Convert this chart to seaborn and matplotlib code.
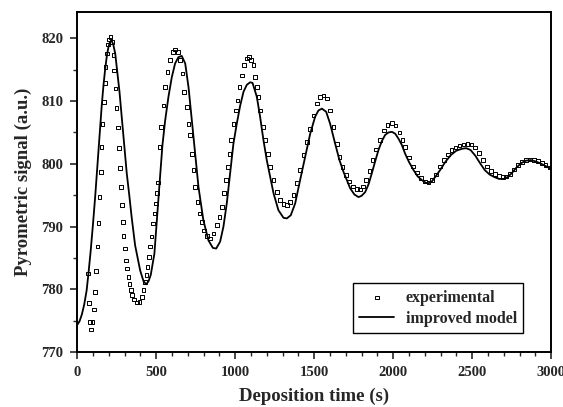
import matplotlib
matplotlib.use("Agg")
import matplotlib.pyplot as plt
import seaborn as sns
import pandas as pd
from matplotlib.ticker import MultipleLocator

# ---- data ----
exp_time = [68, 76, 82, 89, 97, 106, 114, 120, 128, 135, 141, 150, 155, 160, 168, 175, 180, 188,
            195, 203, 212, 222, 230, 235, 242, 250, 257, 263, 270, 277, 283, 289, 294, 304, 310,
            316, 325, 331, 340, 348, 361, 378, 394, 409, 420, 430, 439, 445, 454, 462, 470, 479,
            489, 498, 504, 510, 521, 532, 546, 557, 572, 589, 605, 620, 637, 652, 667, 677, 694,
            705, 715, 726, 736, 747, 762, 774, 789, 804, 821, 842, 863, 884, 901, 916, 930, 943,
            954, 964, 975, 989, 1004, 1015, 1027, 1042, 1057, 1074, 1088, 1102, 1116, 1127, 1137,
            1148, 1158, 1175, 1190, 1207, 1222, 1243, 1264, 1285, 1306, 1327, 1348, 1369, 1390,
            1411, 1432, 1454, 1475, 1496, 1517, 1538, 1559, 1580, 1601, 1622, 1644, 1660, 1680,
            1700, 1720, 1745, 1770, 1791, 1810, 1830, 1850, 1870, 1890, 1918, 1940, 1965, 1992,
            2015, 2040, 2060, 2076, 2100, 2125, 2150, 2175, 2200, 2224, 2245, 2270, 2297, 2320,
            2345, 2370, 2395, 2420, 2445, 2470, 2495, 2520, 2545, 2570, 2595, 2620, 2645, 2670,
            2695, 2715, 2740, 2765, 2790, 2815, 2840, 2865, 2890, 2915, 2940, 2965, 2990]
exp_signal = [782.5, 777.8, 774.8, 773.6, 774.8, 776.8, 779.6, 782.9, 786.8, 790.6, 794.7, 798.7,
              802.7, 806.4, 809.9, 812.9, 815.4, 817.6, 819.0, 819.8, 820.2, 819.4, 817.3, 814.9,
              812.0, 808.9, 805.8, 802.5, 799.3, 796.3, 793.4, 790.7, 788.5, 786.5, 784.6, 783.3,
              782.0, 780.9, 779.9, 779.1, 778.4, 777.9, 778.0, 778.8, 779.9, 781.2, 782.3, 783.6,
              785.2, 786.8, 788.4, 790.5, 792.1, 793.7, 795.4, 797.0, 802.7, 805.9, 809.3, 812.2,
              814.6, 816.5, 817.8, 818.2, 817.8, 816.5, 814.4, 811.5, 809.1, 806.4, 804.6, 801.6,
              799.0, 796.3, 793.9, 792.1, 790.7, 789.4, 788.5, 788.1, 788.9, 790.2, 791.5, 793.1,
              795.3, 797.4, 799.5, 801.6, 803.8, 806.4, 808.5, 810.1, 812.2, 814.1, 815.7, 816.8,
              817.0, 816.6, 815.8, 813.8, 812.2, 810.7, 808.5, 805.9, 803.8, 801.6, 799.5, 797.4,
              795.5, 794.2, 793.6, 793.4, 793.9, 795.0, 796.9, 799.0, 801.4, 803.5, 805.6, 807.7,
              809.6, 810.7, 810.9, 810.4, 808.5, 805.9, 803.2, 801.1, 799.5, 798.2, 797.2, 796.4,
              796.0, 795.9, 796.4, 797.4, 798.9, 800.6, 802.3, 803.8, 805.3, 806.2, 806.5, 806.1,
              805.0, 803.8, 802.7, 801.0, 799.6, 798.6, 797.7, 797.2, 797.0, 797.4, 798.3, 799.6,
              800.6, 801.5, 802.2, 802.6, 802.9, 803.1, 803.2, 803.1, 802.6, 801.7, 800.6, 799.6,
              798.9, 798.4, 798.1, 797.9, 798.0, 798.4, 799.1, 799.8, 800.3, 800.6, 800.7, 800.6,
              800.4, 800.1, 799.8, 799.4]

model_time = [0, 15, 30, 45, 60, 72, 86, 100, 114, 125, 135, 146, 156, 167, 177, 188, 198, 208,
              218, 228, 241, 268, 293, 314, 330, 345, 367, 399, 420, 437, 452, 466, 489, 510, 525,
              540, 557, 578, 599, 620, 641, 662, 684, 705, 726, 747, 768, 799, 831, 859, 880, 905,
              926, 947, 968, 989, 1011, 1032, 1053, 1074, 1095, 1110, 1137, 1158, 1179, 1200, 1222,
              1243, 1274, 1306, 1327, 1352, 1380, 1411, 1443, 1475, 1506, 1527, 1549, 1576, 1601,
              1633, 1660, 1686, 1728, 1755, 1781, 1800, 1823, 1845, 1865, 1885, 1907, 1928, 1949,
              1970, 1992, 2013, 2034, 2055, 2076, 2100, 2129, 2155, 2182, 2205, 2224, 2245, 2266,
              2297, 2330, 2365, 2400, 2435, 2462, 2490, 2520, 2550, 2580, 2610, 2640, 2670, 2700,
              2725, 2750, 2780, 2810, 2840, 2870, 2900, 2930, 2960, 3000]
model_signal = [774.3, 774.9, 776.0, 777.6, 779.8, 782.6, 786.2, 790.3, 794.7, 798.6, 802.3,
                806.2, 809.4, 812.6, 815.0, 817.2, 818.6, 819.4, 819.6, 819.1, 817.6, 811.5, 804.5,
                798.5, 795.0, 791.5, 787.0, 783.0, 781.3, 780.8, 781.3, 782.3, 785.7, 793.0, 798.0,
                803.0, 806.9, 810.7, 813.8, 816.0, 817.0, 817.2, 816.0, 812.2, 806.9, 801.6, 796.3,
                791.0, 787.8, 786.6, 786.5, 787.6, 790.0, 793.7, 798.5, 803.2, 806.5, 809.3, 811.5,
                812.6, 813.0, 812.9, 810.7, 807.5, 803.8, 800.6, 797.9, 795.3, 792.6, 791.4, 791.3,
                791.8, 793.7, 797.4, 801.1, 804.8, 807.5, 808.5, 808.8, 808.3, 806.4, 803.2, 800.6,
                798.7, 796.1, 795.1, 794.7, 794.9, 795.5, 796.8, 798.5, 800.3, 802.2, 803.6, 804.6,
                805.0, 805.1, 804.8, 804.0, 803.0, 801.6, 800.3, 799.0, 798.0, 797.4, 797.0, 796.9,
                797.2, 797.9, 799.0, 800.3, 801.4, 802.1, 802.4, 802.5, 802.2, 801.3, 800.1, 799.0,
                798.3, 797.9, 797.6, 797.6, 797.9, 798.5, 799.4, 800.1, 800.5, 800.6, 800.4, 800.1,
                799.7, 799.2]

x_ticks = [0, 500, 1000, 1500, 2000, 2500, 3000]
y_ticks = [770, 780, 790, 800, 810, 820]

exp_df = pd.DataFrame({"t": exp_time, "s": exp_signal})
mod_df = pd.DataFrame({"t": model_time, "s": model_signal})

sns.set_style("white")
plt.rcParams["font.family"] = ["Liberation Serif", "DejaVu Serif"]
plt.rcParams["font.weight"] = "bold"

fig = plt.figure(figsize=(5.63, 4.07), dpi=100)
ax = fig.add_axes([0.137, 0.135, 0.842, 0.8355])

sns.scatterplot(data=exp_df, x="t", y="s", ax=ax, marker="s", s=7,
                facecolors="none", edgecolor="black", linewidth=0.7,
                label="experimental", zorder=3)
sns.lineplot(data=mod_df, x="t", y="s", ax=ax, color="black", linewidth=1.3,
             label="improved model", zorder=2)

ax.set_xlim(0, 3000)
ax.set_ylim(770, 824.2)
ax.set_xticks(x_ticks)
ax.set_yticks(y_ticks)
ax.xaxis.set_minor_locator(MultipleLocator(100))
ax.yaxis.set_minor_locator(MultipleLocator(5))
ax.tick_params(axis="both", which="major", direction="out", length=5, width=1.2,
               labelsize=10.5, bottom=True, left=True, top=False, right=False, pad=5)
ax.tick_params(axis="both", which="minor", direction="out", length=3, width=1.0,
               bottom=True, left=True, top=False, right=False)
for lab in ax.get_xticklabels() + ax.get_yticklabels():
    lab.set_fontweight("bold")
for sp in ax.spines.values():
    sp.set_linewidth(1.4)
    sp.set_color("black")

ax.set_xlabel("Deposition time (s)", fontsize=13.5, fontweight="bold", labelpad=6.5)
ax.set_ylabel("Pyrometric signal (a.u.)", fontsize=13.5, fontweight="bold", labelpad=7)

leg = ax.legend(loc="lower right", bbox_to_anchor=(0.941, 0.056), frameon=True,
                fancybox=False, shadow=False, handlelength=2.2, borderaxespad=0,
                borderpad=0.4, labelspacing=0.3, handletextpad=0.7,
                prop={"weight": "bold", "size": 11.5})
leg.get_frame().set_edgecolor("black")
leg.get_frame().set_linewidth(1.0)
leg.get_frame().set_alpha(1)

fig.savefig("out.png", dpi=100)
